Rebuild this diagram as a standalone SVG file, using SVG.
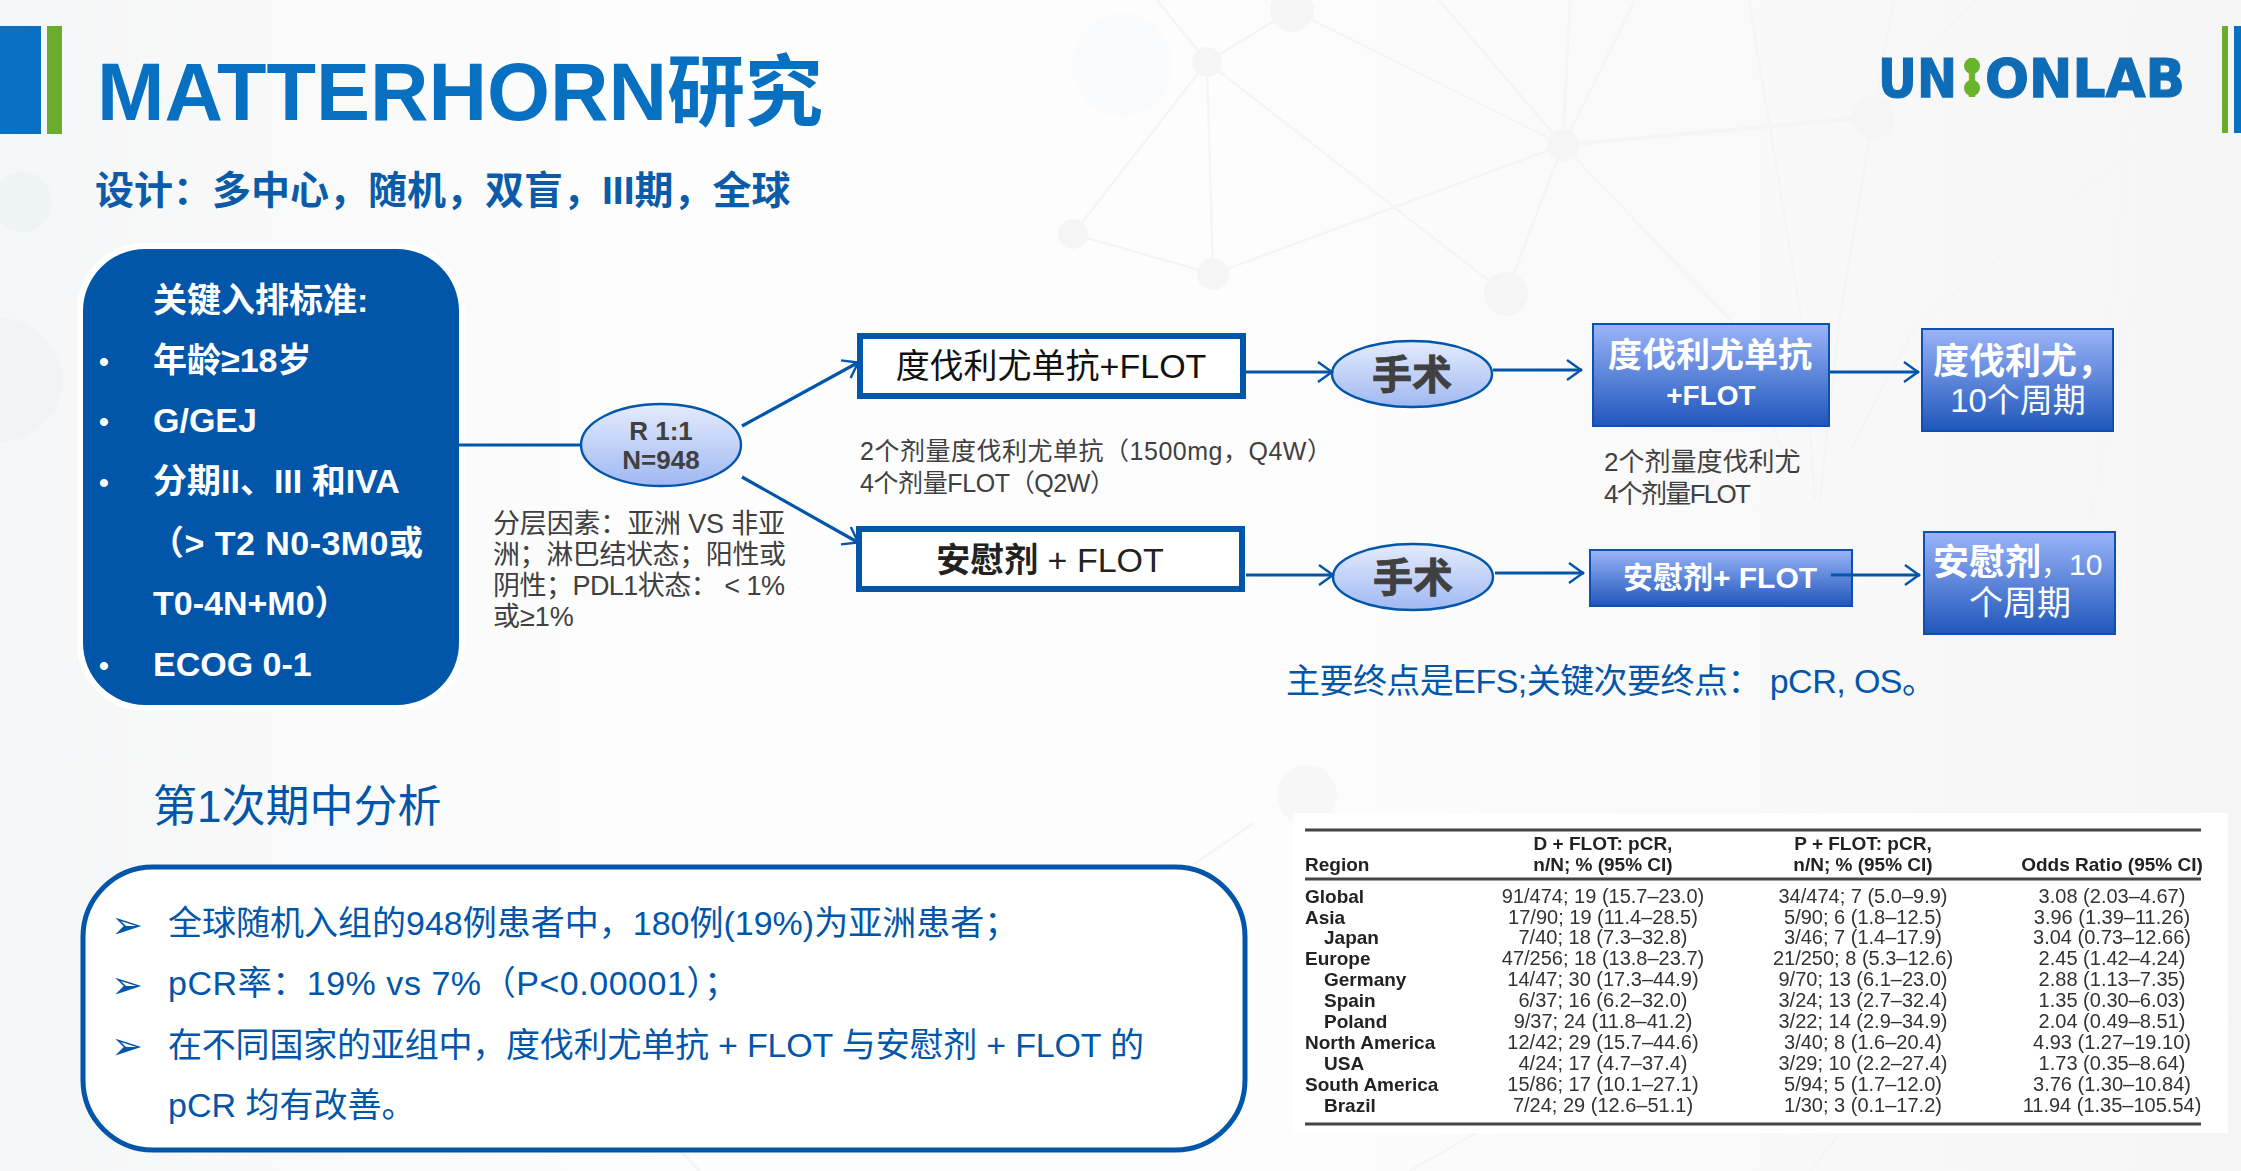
<svg xmlns="http://www.w3.org/2000/svg" width="2241" height="1171" viewBox="0 0 2241 1171">
<defs>
<linearGradient id="bg" x1="0" y1="0" x2="1" y2="0"><stop offset="0" stop-color="#f5f6f7"/><stop offset="0.3" stop-color="#fdfdfd"/><stop offset="0.55" stop-color="#fdfdfd"/><stop offset="1" stop-color="#f5f5f5"/></linearGradient>
<linearGradient id="blueBox" x1="0" y1="0" x2="0" y2="1"><stop offset="0" stop-color="#9bb4f8"/><stop offset="1" stop-color="#1f56bb"/></linearGradient>
<linearGradient id="oval" x1="0" y1="0" x2="0" y2="1"><stop offset="0" stop-color="#e4ebfc"/><stop offset="1" stop-color="#a0b8f2"/></linearGradient>
<marker id="arr" markerUnits="userSpaceOnUse" markerWidth="20" markerHeight="26" refX="17" refY="13" orient="auto"><path d="M2 3 L16 13 L2 23" fill="none" stroke="#0256aa" stroke-width="2.4"/></marker>
<filter id="soft"><feGaussianBlur stdDeviation="0.45"/></filter>
</defs>
<style>
text{font-family:"Liberation Sans","Noto Sans CJK SC",sans-serif}
.b{font-weight:700}
.wh{fill:#fff}
.dk{fill:#404040}
.bl{fill:#0256aa}
.edge{fill:none;stroke:#0256aa;stroke-width:3.2;marker-end:url(#arr)}
.net{fill:none;stroke:#f5f5f5;stroke-width:2.5}
.dot{fill:#f5f5f5}
.wbox{fill:#fff;stroke:#0256aa;stroke-width:6}
.gbox{fill:url(#blueBox);stroke:#0d50b0;stroke-width:2}
.ov{fill:url(#oval);stroke:#0256aa;stroke-width:2.4}
.t{font-size:20px;fill:#333}
.th{font-size:19px;font-weight:700;fill:#222}
.m{text-anchor:middle}
.crit{font-size:34px;font-weight:700;fill:#fff}
.dotb{font-size:28px;font-weight:700;fill:#fff}
.sm{font-size:25px;fill:#404040}
.strat{font-size:27px;fill:#404040}
.li{font-size:34px;fill:#0256aa}
.arw{font-size:38px;fill:#0256aa;font-family:"DejaVu Sans",sans-serif}
.lg{font-size:54px;font-weight:700;font-family:"DejaVu Sans",sans-serif;fill:#0e6cb6;stroke:#0e6cb6;stroke-width:1.2}
</style>
<rect width="2241" height="1171" fill="url(#bg)"/>
<g id="background">
<path class="net" d="M1157 0L1207 62L1292 10L1563 145M1439 0L1563 145M1570 0L1563 145M1635 0L1563 145M1749 0L1802 323L1815 500M1873 117L1894 0M1873 117L1839 323L1820 500M1976 0L1921 57M1207 62L1073 234L1213 274L1207 62M1207 62L1506 294M1213 274L1563 145L1506 294M1563 145L1733 323L1790 470M2223 78L1917 323L1850 450M2139 0L2110 323L2100 480M2206 0L2223 78L2128 323L2090 520M1476 1133L1409 1171M1254 823L1185 870M700 1171L660 1130M1840 1133L1810 1171"/>
<path class="net" style="stroke-width:4" d="M1563 145L1873 117"/>
<ellipse cx="1122" cy="65" rx="50" ry="52" fill="#f9fbfd"/>
<circle class="dot" cx="1292" cy="10" r="22"/><circle class="dot" cx="1207" cy="62" r="15"/><circle class="dot" cx="1563" cy="145" r="16"/><circle class="dot" cx="1873" cy="117" r="22"/><circle class="dot" cx="1073" cy="234" r="15"/><circle class="dot" cx="1213" cy="274" r="16"/><circle class="dot" cx="1506" cy="294" r="22"/><circle class="dot" cx="2223" cy="78" r="22"/>
<circle cx="22" cy="202" r="30" fill="#eef3f6"/><circle cx="0" cy="380" r="62" fill="#f2f3f6"/>
<circle cx="1307" cy="795" r="30" fill="#f7f7f7"/>
<circle cx="335" cy="855" r="50" fill="#f8fafc"/>
</g>
<g id="header">
<rect x="0" y="26" width="41" height="108" fill="#0770c0"/><rect x="47" y="26" width="15" height="108" fill="#6aac2c"/>
<text x="97" y="120" class="b" fill="#0770c0"><tspan font-size="81">MATTERHORN</tspan><tspan font-size="78">研究</tspan></text>
<text x="95" y="204" font-size="39" class="b" fill="#0b5ca8">设计&#xFF1A;多中心&#xFF0C;随机&#xFF0C;双盲&#xFF0C;III期&#xFF0C;全球</text>
</g>
<g id="logo">
<rect x="2222" y="26" width="6" height="107" fill="#6aac2c"/><rect x="2234" y="26" width="7" height="107" fill="#0770c0"/>
<text class="lg" x="1878" y="97" textLength="79" lengthAdjust="spacingAndGlyphs">UN</text>
<circle cx="1972" cy="66" r="8" fill="#6ab42c"/><circle cx="1972" cy="88" r="8" fill="#6ab42c"/>
<text class="lg" x="1966" y="97" style="fill:#6ab42c;stroke:none" textLength="12" lengthAdjust="spacingAndGlyphs">I</text>
<text class="lg" x="1985" y="97" textLength="200" lengthAdjust="spacingAndGlyphs">ONLAB</text>
</g>
<g id="criteria">
<rect x="83" y="249" width="376" height="456" rx="62" fill="#0256aa" stroke="#fff" stroke-width="12" paint-order="stroke"/>
<text class="crit" x="153" y="312">关键入排标准:</text>
<text class="dotb" x="99" y="371">•</text><text class="crit" x="153" y="372">年龄≥18岁</text>
<text class="dotb" x="99" y="431">•</text><text class="crit" x="153" y="432">G/GEJ</text>
<text class="dotb" x="99" y="492">•</text><text class="crit" x="153" y="493">分期II、III 和IVA</text>
<text class="crit" x="150" y="555" textLength="273">&#xFF08;&gt; T2 N0-3M0或</text>
<text class="crit" x="153" y="615">T0-4N+M0&#xFF09;</text>
<text class="dotb" x="99" y="675">•</text><text class="crit" x="153" y="676">ECOG 0-1</text>
</g>
<g id="randomise">
<ellipse class="ov" cx="661" cy="445" rx="80" ry="41"/>
<text class="dk b m" x="661" y="440" font-size="26">R 1:1</text>
<text class="dk b m" x="661" y="469" font-size="26">N=948</text>
</g>
<g id="strata">
<text class="strat" x="493" y="533" textLength="292">分层因素&#xFF1A;亚洲 VS 非亚</text>
<text class="strat" x="493" y="564" textLength="293">洲&#xFF1B;淋巴结状态&#xFF1B;阳性或</text>
<text class="strat" x="493" y="595" textLength="292">阴性&#xFF1B;PDL1状态&#xFF1A; &lt; 1%</text>
<text class="strat" x="493" y="626">或≥1%</text>
</g>
<g id="arm-durva">
<rect class="wbox" x="860" y="336" width="383" height="60"/>
<text class="m" x="1051" y="378" font-size="34" fill="#111">度伐利尤单抗+FLOT</text>
</g>
<g id="arm-placebo">
<rect class="wbox" x="859" y="529" width="383" height="60"/>
<text class="m" x="1050" y="572" font-size="34" fill="#222"><tspan class="b">安慰剂</tspan> + FLOT</text>
</g>
<g id="dose-1">
<text class="sm" x="860" y="460" textLength="472">2个剂量度伐利尤单抗&#xFF08;1500mg&#xFF0C;Q4W&#xFF09;</text>
<text class="sm" x="860" y="492" textLength="255">4个剂量FLOT&#xFF08;Q2W&#xFF09;</text>
</g>
<g id="surgery-1"><ellipse class="ov" cx="1412" cy="374" rx="80" ry="33"/><text class="dk b m" x="1412" y="389" font-size="40" stroke="#404040" stroke-width="0.8">手术</text></g>
<g id="surgery-2"><ellipse class="ov" cx="1413" cy="577" rx="80" ry="33"/><text class="dk b m" x="1413" y="592" font-size="40" stroke="#404040" stroke-width="0.8">手术</text></g>
<g id="adj-durva">
<rect class="gbox" x="1593" y="324" width="236" height="102"/>
<text class="wh b m" x="1710" y="367" font-size="34">度伐利尤单抗</text>
<text class="wh b m" x="1711" y="405" font-size="28">+FLOT</text>
</g>
<g id="maint-durva">
<rect class="gbox" x="1922" y="329" width="191" height="102"/>
<text class="wh b" x="1933" y="374" font-size="36">度伐利尤&#xFF0C;</text>
<text class="wh m" x="2018" y="412" font-size="33">10个周期</text>
</g>
<g id="dose-2">
<text class="sm" style="font-size:26px" x="1604" y="471">2个剂量度伐利尤</text>
<text class="sm" style="font-size:26px" x="1604" y="503" textLength="147">4个剂量FLOT</text>
</g>
<g id="adj-placebo">
<rect class="gbox" x="1590" y="550" width="262" height="56"/>
<text class="wh b m" x="1720" y="588" font-size="30">安慰剂+ FLOT</text>
</g>
<g id="maint-placebo">
<rect class="gbox" x="1924" y="532" width="191" height="102"/>
<text class="wh" x="1933" y="575"><tspan class="b" font-size="36">安慰剂</tspan><tspan font-size="28">&#xFF0C;</tspan><tspan font-size="30">10</tspan></text>
<text class="wh m" x="2020" y="615" font-size="34">个周期</text>
</g>
<g id="connectors">
<path d="M459 445H581" fill="none" stroke="#0256aa" stroke-width="3.2"/>
<path class="edge" d="M742 426L859 362"/>
<path class="edge" d="M742 477L859 543"/>
<path class="edge" d="M1246 372H1333"/>
<path class="edge" d="M1493 370H1582"/>
<path class="edge" d="M1830 372H1919"/>
<path class="edge" d="M1246 575H1334"/>
<path class="edge" d="M1495 573H1584"/>
<path class="edge" d="M1831 575H1920"/>
</g>
<text id="endpoints" class="bl" x="1286" y="693" font-size="34" textLength="650">主要终点是EFS;关键次要终点&#xFF1A; pCR, OS。</text>
<text id="interim-title" class="bl" x="153" y="822" font-size="44">第1次期中分析</text>
<g id="interim">
<rect x="83" y="867" width="1162" height="283" rx="70" fill="#fff" stroke="#0256aa" stroke-width="5"/>
<text class="arw" x="111" y="938">➢</text>
<text class="arw" x="111" y="998">➢</text>
<text class="arw" x="111" y="1059">➢</text>
<text class="li" x="168" y="935">全球随机入组的948例患者中&#xFF0C;180例(19%)为亚洲患者&#xFF1B;</text>
<text class="li" x="168" y="995" textLength="570">pCR率&#xFF1A;19% vs 7%&#xFF08;P&lt;0.00001&#xFF09;&#xFF1B;</text>
<text class="li" x="168" y="1057" textLength="976">在不同国家的亚组中&#xFF0C;度伐利尤单抗 + FLOT 与安慰剂 + FLOT 的</text>
<text class="li" x="168" y="1117">pCR 均有改善。</text>
</g>
<g id="table">
<rect x="1293" y="813" width="935" height="320" fill="#fff"/>
<g filter="url(#soft)">
<path d="M1305 830H2201M1305 879H2201M1305 1124H2201" stroke="#444" stroke-width="3"/>
<text class="th m" x="1603" y="850">D + FLOT: pCR,</text><text class="th m" x="1863" y="850">P + FLOT: pCR,</text>
<text class="th" x="1305" y="871">Region</text><text class="th m" x="1603" y="871">n/N; % (95% CI)</text><text class="th m" x="1863" y="871">n/N; % (95% CI)</text><text class="th m" x="2112" y="871">Odds Ratio (95% CI)</text>
<text class="th" x="1305" y="903">Global</text><text class="t m" x="1603" y="903">91/474; 19 (15.7–23.0)</text><text class="t m" x="1863" y="903">34/474; 7 (5.0–9.9)</text><text class="t m" x="2112" y="903">3.08 (2.03–4.67)</text>
<text class="th" x="1305" y="924">Asia</text><text class="t m" x="1603" y="924">17/90; 19 (11.4–28.5)</text><text class="t m" x="1863" y="924">5/90; 6 (1.8–12.5)</text><text class="t m" x="2112" y="924">3.96 (1.39–11.26)</text>
<text class="th" x="1324" y="944">Japan</text><text class="t m" x="1603" y="944">7/40; 18 (7.3–32.8)</text><text class="t m" x="1863" y="944">3/46; 7 (1.4–17.9)</text><text class="t m" x="2112" y="944">3.04 (0.73–12.66)</text>
<text class="th" x="1305" y="965">Europe</text><text class="t m" x="1603" y="965">47/256; 18 (13.8–23.7)</text><text class="t m" x="1863" y="965">21/250; 8 (5.3–12.6)</text><text class="t m" x="2112" y="965">2.45 (1.42–4.24)</text>
<text class="th" x="1324" y="986">Germany</text><text class="t m" x="1603" y="986">14/47; 30 (17.3–44.9)</text><text class="t m" x="1863" y="986">9/70; 13 (6.1–23.0)</text><text class="t m" x="2112" y="986">2.88 (1.13–7.35)</text>
<text class="th" x="1324" y="1007">Spain</text><text class="t m" x="1603" y="1007">6/37; 16 (6.2–32.0)</text><text class="t m" x="1863" y="1007">3/24; 13 (2.7–32.4)</text><text class="t m" x="2112" y="1007">1.35 (0.30–6.03)</text>
<text class="th" x="1324" y="1028">Poland</text><text class="t m" x="1603" y="1028">9/37; 24 (11.8–41.2)</text><text class="t m" x="1863" y="1028">3/22; 14 (2.9–34.9)</text><text class="t m" x="2112" y="1028">2.04 (0.49–8.51)</text>
<text class="th" x="1305" y="1049">North America</text><text class="t m" x="1603" y="1049">12/42; 29 (15.7–44.6)</text><text class="t m" x="1863" y="1049">3/40; 8 (1.6–20.4)</text><text class="t m" x="2112" y="1049">4.93 (1.27–19.10)</text>
<text class="th" x="1324" y="1070">USA</text><text class="t m" x="1603" y="1070">4/24; 17 (4.7–37.4)</text><text class="t m" x="1863" y="1070">3/29; 10 (2.2–27.4)</text><text class="t m" x="2112" y="1070">1.73 (0.35–8.64)</text>
<text class="th" x="1305" y="1091">South America</text><text class="t m" x="1603" y="1091">15/86; 17 (10.1–27.1)</text><text class="t m" x="1863" y="1091">5/94; 5 (1.7–12.0)</text><text class="t m" x="2112" y="1091">3.76 (1.30–10.84)</text>
<text class="th" x="1324" y="1112">Brazil</text><text class="t m" x="1603" y="1112">7/24; 29 (12.6–51.1)</text><text class="t m" x="1863" y="1112">1/30; 3 (0.1–17.2)</text><text class="t m" x="2112" y="1112">11.94 (1.35–105.54)</text>
</g>
</g>
</svg>
